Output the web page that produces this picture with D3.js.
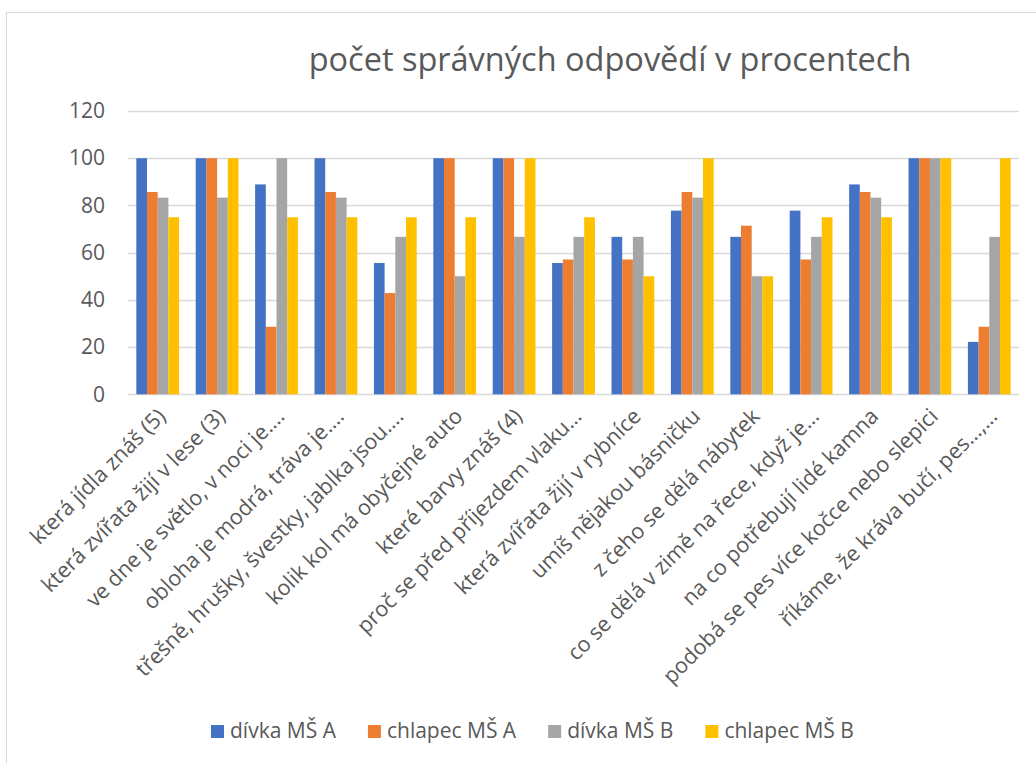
<!DOCTYPE html>
<html><head><meta charset="utf-8">
<script src="https://cdn.jsdelivr.net/npm/d3@7/dist/d3.min.js"></script>
<style>
html,body{margin:0;padding:0;background:#fff;}
svg{display:block;font-family:"Open Sans",sans-serif;}
</style></head>
<body>
<svg id="chart" width="1036" height="763"></svg>
<script>
const title = "počet správných odpovědí v procentech";
const categories = [
  "která jídla znáš (5)",
  "která zvířata žijí v lese (3)",
  "ve dne je světlo, v noci je….",
  "obloha je modrá, tráva je….",
  "třešně, hrušky, švestky, jablka jsou….",
  "kolik kol má obyčejné auto",
  "které barvy znáš (4)",
  "proč se před příjezdem vlaku…",
  "která zvířata žijí v rybníce",
  "umíš nějakou básničku",
  "z čeho se dělá nábytek",
  "co se dělá v zimě na řece, když je…",
  "na co potřebují lidé kamna",
  "podobá se pes více kočce nebo slepici",
  "říkáme, že kráva bučí, pes…,…"
];
const seriesNames = ["dívka MŠ A", "chlapec MŠ A", "dívka MŠ B", "chlapec MŠ B"];
const divkaA   = [100, 100, 88.9, 100, 55.6, 100, 100, 55.6, 66.7, 77.8, 66.7, 77.8, 88.9, 100, 22.2];
const chlapecA = [85.7, 100, 28.6, 85.7, 42.9, 100, 100, 57.1, 57.1, 85.7, 71.4, 57.1, 85.7, 100, 28.6];
const divkaB   = [83.3, 83.3, 100, 83.3, 66.7, 50, 66.7, 66.7, 66.7, 83.3, 50, 66.7, 83.3, 100, 66.7];
const chlapecB = [75, 100, 75, 75, 75, 75, 100, 75, 50, 100, 50, 75, 75, 100, 100];
const yTicks = [0, 20, 40, 60, 80, 100, 120];
const colors = ["#4472C4", "#ED7D31", "#A5A5A5", "#FFC000"];

const seriesValues = [divkaA, chlapecA, divkaB, chlapecB];
const svg = d3.select("#chart");
const textColor = "#595959";

// outer chart border
svg.append("rect").attr("x", 6.5).attr("y", 12.5).attr("width", 1100).attr("height", 800)
  .attr("fill", "none").attr("stroke", "#d9d9d9").attr("stroke-width", 1);

const x0 = d3.scaleBand().domain(categories).range([128, 1019]).paddingInner(0.28).paddingOuter(0.14);
const x1 = d3.scaleBand().domain(seriesNames).range([0, x0.bandwidth()]);
const y = d3.scaleLinear().domain([0, 120]).range([394.3, 111]);

// gridlines
svg.append("g").selectAll("line").data(yTicks).join("line")
  .attr("x1", 128).attr("x2", 1019)
  .attr("y1", d => Math.round(y(d)) + 0.5).attr("y2", d => Math.round(y(d)) + 0.5)
  .attr("stroke", "#d9d9d9").attr("stroke-width", 1.3);

// y axis labels
const yAxis = d3.axisLeft(y).tickValues(yTicks).tickSize(0).tickPadding(0);
const yg = svg.append("g").attr("transform", "translate(105,0)").call(yAxis);
yg.select(".domain").remove();
yg.selectAll("text").attr("fill", textColor).attr("font-size", "21px").attr("font-family", "Open Sans, sans-serif");

// bars
const groups = svg.append("g").selectAll("g").data(categories).join("g")
  .attr("transform", d => `translate(${x0(d)},0)`);
groups.selectAll("rect").data((d, i) => seriesNames.map((s, j) => ({s, v: seriesValues[j][i], j})))
  .join("rect")
  .attr("x", d => x1(d.s))
  .attr("width", x1.bandwidth())
  .attr("y", d => y(d.v))
  .attr("height", d => y(0) - y(d.v))
  .attr("fill", d => colors[d.j]);

// x axis labels
const xAxis = d3.axisBottom(x0).tickSize(0).tickPadding(0);
const xg = svg.append("g").attr("transform", `translate(0,${y(0)})`).call(xAxis);
xg.select(".domain").remove();
const xt = xg.selectAll("text")
  .attr("fill", textColor).attr("font-size", "21px").attr("font-family", "Open Sans, sans-serif")
  .attr("text-anchor", "end")
  .attr("dy", "0.35em");
// fit label font so the longest label spans about the same length as in the reference
const refLen = xt.filter((d, i) => i === 4).node().getComputedTextLength();
const labelSize = 21 * 368 / refLen;
xt.attr("font-size", labelSize + "px")
  .attr("transform", "translate(4,18) rotate(-45)");

// title
svg.append("text").attr("x", 610).attr("y", 71).attr("text-anchor", "middle")
  .attr("fill", textColor).attr("font-size", "32.5px").text(title);

// legend
const legend = svg.append("g").attr("transform", "translate(211,731)");
let lx = 0;
seriesNames.forEach((s, j) => {
  const g = legend.append("g").attr("transform", `translate(${lx},0)`);
  g.append("rect").attr("x", 0).attr("y", -6).attr("width", 13).attr("height", 13).attr("fill", colors[j]);
  const t = g.append("text").attr("x", 19).attr("y", 0).attr("dy", "0.35em")
    .attr("fill", textColor).attr("font-size", "21px").text(s);
  lx += 19 + t.node().getComputedTextLength() + 32;
});
</script>
</body></html>
